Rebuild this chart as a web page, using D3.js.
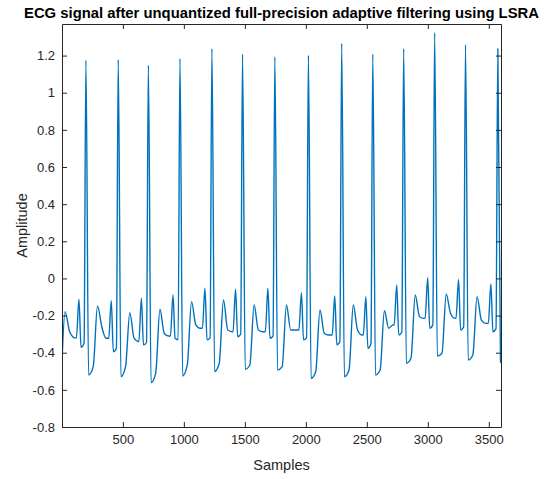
<!DOCTYPE html>
<meta charset="utf-8">
<script src="https://d3js.org/d3.v7.min.js"></script>
<style>
    body { margin: 0; background: #fff; }
    svg text { font-family: "Liberation Sans", Arial, Helvetica, sans-serif; fill: #262626; }
</style>
<div id="chart"></div>
<script>
    // R peaks (sample index) and amplitudes
    var rSample = [197, 462, 709, 968, 1230, 1481, 1746, 2021, 2294, 2549, 2802, 3056, 3309, 3574];
    var rAmp = [1.175, 1.178, 1.148, 1.184, 1.238, 1.208, 1.193, 1.202, 1.266, 1.208, 1.237, 1.323, 1.258, 1.237];

    // before each R: small sharp peak, then the dip just before the upstroke
    var pAmp = [-0.112, -0.12, -0.107, -0.089, -0.053, -0.058, -0.053, -0.077, -0.095, -0.098, -0.035, 0.004, -0.005, -0.03];
    var qAmp = [-0.371, -0.395, -0.358, -0.322, -0.331, -0.314, -0.322, -0.331, -0.358, -0.376, -0.305, -0.268, -0.278, -0.287];
    var q2Amp = [-0.348, -0.376, -0.345, -0.33, -0.32, -0.30, -0.31, -0.32, -0.34, -0.35, -0.29, -0.25, -0.26, -0.27];

    // after each R: S trough, end of low plateau, T hump, decay, baseline
    var sAmp = [-0.52, -0.529, -0.561, -0.525, -0.502, -0.489, -0.493, -0.538, -0.529, -0.52, -0.457, -0.418, -0.439, -0.448];
    var plAmp = [-0.475, -0.475, -0.511, -0.466, -0.457, -0.466, -0.475, -0.502, -0.493, -0.493, -0.43, -0.403, -0.412];
    var tAmp = [-0.148, -0.184, -0.166, -0.125, -0.116, -0.143, -0.143, -0.17, -0.143, -0.174, -0.089, -0.084, -0.098];
    var dAmp = [-0.26, -0.322, -0.295, -0.25, -0.278, -0.278, -0.278, -0.295, -0.278, -0.268, -0.206, -0.188, -0.224];
    var bAmp = [-0.322, -0.34, -0.31, -0.268, -0.287, -0.287, -0.278, -0.305, -0.305, -0.251, -0.215, -0.215, -0.242];

    // sample offsets of those points relative to the R peak
    var beforeOffsets = [-78, -57, -40, -15];
    var afterOffsets = [22, 60, 95, 130, 165];

    // start of the record (tail of a beat cut off at the left edge) and the end
    var leadSample = [1, 26, 64, 108];
    var leadAmp = [-0.45, -0.179, -0.287, -0.32];
    var tailSample = [3600];
    var tailAmp = [-0.455];

    var xTicks = [500, 1000, 1500, 2000, 2500, 3000, 3500];
    var yTicks = [-0.8, -0.6, -0.4, -0.2, 0, 0.2, 0.4, 0.6, 0.8, 1, 1.2];
    var yTickLabels = ["-0.8", "-0.6", "-0.4", "-0.2", "0", "0.2", "0.4", "0.6", "0.8", "1", "1.2"];

    var width = 559;
    var height = 479;
    var margin = { top: 24, right: 58, bottom: 52, left: 62 };

    // build the trace from the points read above
    var points = leadSample.map((s, i) => [s, leadAmp[i]]);
    rSample.forEach((r, i) => {
        var prevBase = i === 0 ? leadAmp[leadAmp.length - 1] : bAmp[i - 1];
        var before = [prevBase, pAmp[i], qAmp[i], q2Amp[i]];
        beforeOffsets.forEach((o, k) => points.push([r + o, before[k]]));
        points.push([r, rAmp[i]]);
        if (i < tAmp.length) {
            var after = [sAmp[i], plAmp[i], tAmp[i], dAmp[i], bAmp[i]];
            afterOffsets.forEach((o, k) => points.push([r + o, after[k]]));
        } else {
            points.push([r + afterOffsets[0], sAmp[i]]);
        }
    });
    tailSample.forEach((s, i) => points.push([s, tailAmp[i]]));

    var svg = d3.select('#chart')
        .append('svg')
        .attr('width', width)
        .attr('height', height);

    svg.append('rect').attr('width', width).attr('height', height).attr('fill', '#fff');

    var x = d3.scaleLinear()
        .domain([1, 3600])
        .range([margin.left, width - margin.right]);

    var y = d3.scaleLinear()
        .domain([-0.8, 1.37])
        .range([height - margin.bottom, margin.top]);

    svg.append('clipPath').attr('id', 'plotclip')
        .append('rect')
        .attr('x', margin.left).attr('y', margin.top)
        .attr('width', width - margin.left - margin.right)
        .attr('height', height - margin.top - margin.bottom);

    var line = d3.line()
        .curve(d3.curveMonotoneX)
        .x(d => x(d[0]))
        .y(d => y(d[1]));

    svg.append('path')
        .datum(points)
        .attr('clip-path', 'url(#plotclip)')
        .attr('fill', 'none')
        .attr('stroke', '#0072bd')
        .attr('stroke-width', 1.4)
        .attr('stroke-linejoin', 'round')
        .attr('d', line);

    // MATLAB style box with inward ticks on all four sides
    function styleAxis(g) {
        g.selectAll('.domain').attr('stroke', '#262626').attr('stroke-width', 1);
        g.selectAll('.tick line').attr('stroke', '#262626').attr('stroke-width', 1);
        g.selectAll('.tick text').style('font-size', '13px').attr('fill', '#262626');
    }

    svg.append('g')
        .attr('transform', `translate(0,${height - margin.bottom})`)
        .call(d3.axisBottom(x).tickValues(xTicks).tickSize(-5).tickSizeOuter(0).tickPadding(8)
            .tickFormat(d3.format('d')))
        .call(styleAxis);

    svg.append('g')
        .attr('transform', `translate(0,${margin.top})`)
        .call(d3.axisTop(x).tickValues(xTicks).tickSize(-5).tickSizeOuter(0).tickFormat(''))
        .call(styleAxis);

    svg.append('g')
        .attr('transform', `translate(${margin.left},0)`)
        .call(d3.axisLeft(y).tickValues(yTicks).tickSize(-5).tickSizeOuter(0).tickPadding(7)
            .tickFormat((d, i) => yTickLabels[i]))
        .call(styleAxis);

    svg.append('g')
        .attr('transform', `translate(${width - margin.right},0)`)
        .call(d3.axisRight(y).tickValues(yTicks).tickSize(-5).tickSizeOuter(0).tickFormat(''))
        .call(styleAxis);

    svg.append('text')
        .attr('x', (margin.left + width - margin.right) / 2)
        .attr('y', 18)
        .attr('text-anchor', 'middle')
        .attr('textLength', 515)
        .attr('lengthAdjust', 'spacingAndGlyphs')
        .style('font-size', '14.5px')
        .style('font-weight', 'bold')
        .style('fill', '#000')
        .text('ECG signal after unquantized full-precision adaptive filtering using LSRA');

    svg.append('text')
        .attr('x', (margin.left + width - margin.right) / 2)
        .attr('y', 470)
        .attr('text-anchor', 'middle')
        .style('font-size', '14.5px')
        .text('Samples');

    svg.append('text')
        .attr('transform', `translate(27,${(margin.top + height - margin.bottom) / 2}) rotate(-90)`)
        .attr('text-anchor', 'middle')
        .style('font-size', '14.5px')
        .text('Amplitude');
</script>
